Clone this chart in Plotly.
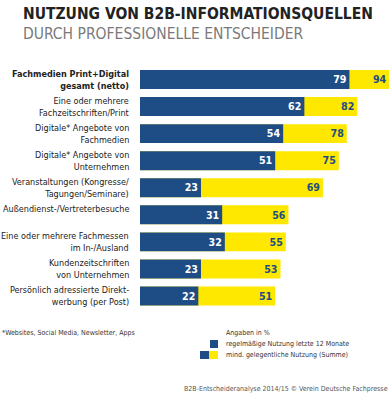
import plotly.graph_objects as go

categories = [
    "<b>Fachmedien Print+Digital<br>gesamt (netto)</b>",
    "Eine oder mehrere<br>Fachzeitschriften/Print",
    "Digitale* Angebote von<br>Fachmedien",
    "Digitale* Angebote von<br>Unternehmen",
    "Veranstaltungen (Kongresse/<br>Tagungen/Seminare)",
    "Außendienst-/Vertreterbesuche<br> ",
    "Eine oder mehrere Fachmessen<br>im In-/Ausland",
    "Kundenzeitschriften<br>von Unternehmen",
    "Persönlich adressierte Direkt-<br>werbung (per Post)",
]
regular = [79, 62, 54, 51, 23, 31, 32, 23, 22]
total = [94, 82, 78, 75, 69, 56, 55, 53, 51]

BLUE = "#1e4d86"
YELLOW = "#ffe800"
FONT = "DejaVu Sans Condensed, Liberation Sans Narrow, sans-serif"

W, H = 391, 400
ids = list(range(len(categories)))

fig = go.Figure()
fig.add_trace(go.Bar(
    y=ids, x=total, orientation="h", marker=dict(color=YELLOW, line=dict(width=0)),
    text=[str(v) for v in total], textposition="inside", insidetextanchor="end",
    textfont=dict(color=BLUE, size=11.5, family=FONT, weight="bold"),
    width=0.7, hoverinfo="skip",
))
fig.add_trace(go.Bar(
    y=ids, x=regular, orientation="h", marker=dict(color=BLUE, line=dict(width=0)),
    text=[str(v) for v in regular], textposition="inside", insidetextanchor="end",
    textfont=dict(color="white", size=11.5, family=FONT, weight="bold"),
    width=0.7, hoverinfo="skip",
))

L, R, T, B = 140, 390, 66, 309.5

annotations = []
for i, c in enumerate(categories):
    annotations.append(dict(
        x=L / W, xref="paper", y=i, yref="y", text=c, showarrow=False,
        xanchor="right", yanchor="middle", align="right", xshift=-9,
        font=dict(family=FONT, size=9, color="#222"),
    ))


def px_ann(x, y, text, size, color="#333", xanchor="left", bold=False):
    return dict(
        x=x / W, y=1 - y / H, xref="paper", yref="paper",
        text=("<b>%s</b>" % text) if bold else text, showarrow=False,
        xanchor=xanchor, yanchor="middle", align="left",
        font=dict(family=FONT, size=size, color=color),
    )


page_anns = [
    px_ann(21, 14, "NUTZUNG VON B2B-INFORMATIONSQUELLEN", 15.5, "#222", bold=True),
    px_ann(21, 34, "DURCH PROFESSIONELLE ENTSCHEIDER", 15.5, "#7a7a7a"),
    px_ann(0, 333, "*Websites, Social Media, Newsletter, Apps", 7, "#333"),
    px_ann(224, 333, "Angaben in %", 7, "#333"),
    px_ann(224, 344, "regelmäßige Nutzung letzte 12 Monate", 7, "#333"),
    px_ann(224, 355, "mind. gelegentliche Nutzung (Summe)", 7, "#333"),
    px_ann(390, 389, "B2B-Entscheideranalyse 2014/15 © Verein Deutsche Fachpresse", 7, "#555", xanchor="right"),
]

fig.update_layout(
    width=W, height=H,
    margin=dict(l=0, r=0, t=0, b=0),
    paper_bgcolor="white", plot_bgcolor="white",
    barmode="overlay", showlegend=False,
    xaxis=dict(domain=[L / W, R / W], range=[0, 94.3], visible=False),
    yaxis=dict(domain=[1 - B / H, 1 - T / H], range=[len(categories) - 0.5, -0.5],
               visible=False),
    font=dict(family=FONT),
    annotations=annotations + page_anns,
)


def rect(x0, y0, x1, y1, color):
    return dict(type="rect", xref="paper", yref="paper",
                x0=x0 / W, x1=x1 / W, y0=1 - y1 / H, y1=1 - y0 / H,
                fillcolor=color, line=dict(width=0))


fig.update_layout(shapes=[
    rect(210, 340, 218, 348, BLUE),
    rect(200, 351, 209, 359, BLUE),
    rect(209, 351, 218, 359, YELLOW),
])

fig.write_html("out.html", config={"displayModeBar": False},
               post_script="document.body.style.margin='0';document.body.style.overflow='hidden';")
